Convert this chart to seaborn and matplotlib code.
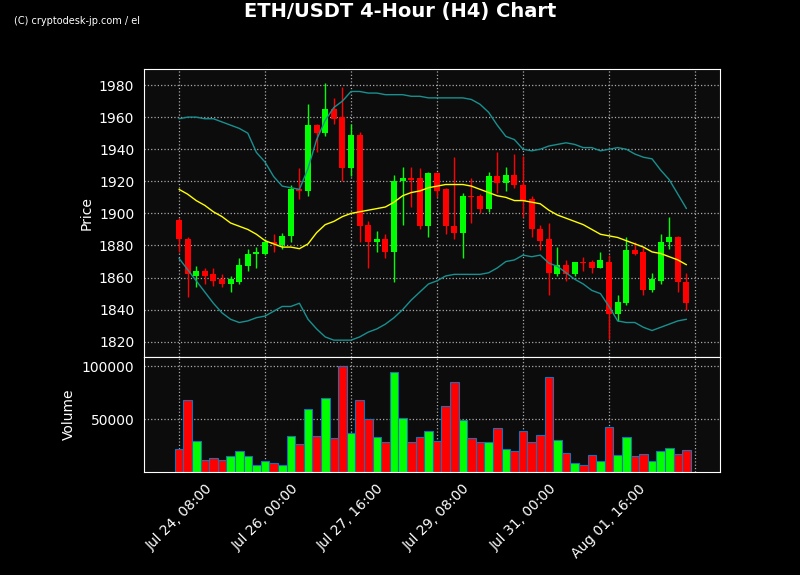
import numpy as np
import pandas as pd
import matplotlib
matplotlib.use("Agg")
import matplotlib.pyplot as plt
import seaborn as sns

opens  = [1896,1884,1861,1864,1862,1859,1856,1857,1867,1875,1875,1882,1880,1886,1915,1914,1955,1950,1965,1960,
          1928,1949,1893,1882,1884,1876,1920,1922,1922,1892,1925,1915,1892,1888,1911,1911,1903,1923,1919,1924,
          1918,1909,1890,1884,1862,1868,1862,1870,1870,1866,1870,1837,1844,1877,1876,1852,1858,1882,1885,1857]
closes = [1884,1862,1864,1861,1858,1856,1859,1868,1875,1876,1882,1881,1886,1915,1914,1955,1950,1965,1959,1928,
          1949,1892,1882,1884,1876,1920,1922,1921,1892,1925,1914,1892,1888,1911,1910,1903,1923,1919,1924,1918,
          1908,1890,1883,1863,1868,1862,1870,1869,1866,1871,1837,1845,1877,1875,1852,1859,1882,1885,1857,1844]
highs  = [1897,1885,1867,1866,1866,1862,1861,1872,1878,1879,1884,1887,1888,1918,1928,1968,1956,1981,1972,1979,
          1956,1951,1895,1889,1887,1924,1929,1929,1928,1926,1926,1916,1935,1913,1922,1912,1926,1938,1929,1937,
          1936,1911,1893,1894,1879,1871,1870,1873,1871,1876,1874,1849,1885,1882,1879,1863,1887,1898,1886,1863]
lows   = [1876,1848,1854,1856,1855,1854,1851,1856,1864,1866,1874,1876,1878,1882,1909,1911,1938,1948,1956,1920,
          1923,1882,1866,1876,1872,1857,1893,1904,1890,1885,1910,1887,1884,1872,1894,1900,1901,1913,1914,1916,
          1898,1885,1877,1849,1861,1858,1861,1864,1863,1866,1822,1833,1843,1874,1849,1851,1856,1878,1851,1840]
volumes = [22000,68000,29000,11000,13000,11000,15000,20000,15000,7000,10000,9000,7000,34000,27000,60000,34000,70000,32000,100000,
           37000,68000,50000,33000,28000,95000,51000,28000,33000,39000,29000,63000,85000,49000,32000,28000,28000,42000,22000,20000,
           39000,28000,35000,90000,30000,18000,9000,7000,16000,10000,43000,16000,33000,15000,17000,10000,20000,23000,17000,21000]
ma20  = [1915,1912,1908,1905,1901,1898,1894,1892,1890,1887,1883,1881,1879,1879,1878,1881,1888,1893,1895,1898,
         1900,1901,1902,1903,1904,1907,1911,1913,1914,1916,1917,1918,1918,1918,1917,1915,1913,1911,1910,1908,
         1908,1907,1906,1902,1899,1897,1895,1893,1890,1887,1886,1885,1883,1881,1879,1876,1875,1873,1871,1868]
upper = [1959,1960,1960,1959,1959,1957,1955,1953,1950,1938,1932,1923,1917,1916,1915,1928,1946,1958,1966,1970,
         1976,1976,1975,1975,1974,1974,1974,1973,1973,1972,1972,1972,1972,1972,1971,1968,1963,1955,1948,1946,
         1940,1939,1940,1942,1943,1944,1943,1941,1941,1939,1940,1941,1940,1937,1935,1934,1927,1921,1912,1903]
lower = [1872,1865,1858,1851,1844,1838,1834,1832,1833,1835,1836,1839,1842,1842,1844,1834,1828,1823,1821,1821,
         1821,1823,1826,1828,1831,1835,1840,1846,1851,1856,1858,1861,1862,1862,1862,1862,1863,1866,1870,1871,
         1874,1873,1874,1869,1867,1863,1859,1856,1852,1850,1842,1833,1832,1832,1829,1827,1829,1831,1833,1834]
start_time = "2023-07-24 08:00"

sns.set_style("dark")
plt.rcParams['font.family'] = ['DejaVu Sans']

n = len(opens)
idx = np.arange(n)
times = pd.date_range(start_time, periods=n + 1, freq="4h")
df = pd.DataFrame({"i": idx, "open": opens, "close": closes, "high": highs, "low": lows,
                   "vol": volumes, "ma": ma20, "up": upper, "lo": lower})
up_mask = df.close >= df.open
GREEN, RED = "#00ff00", "#ff0000"
cols = np.where(up_mask, GREEN, RED)

fig = plt.figure(figsize=(8, 5.75), dpi=100, facecolor="black")
ax1 = fig.add_axes([0.18, 1 - 357/575, 0.72, (357 - 69)/575])
ax2 = fig.add_axes([0.18, 1 - 472/575, 0.72, (472 - 357)/575], sharex=ax1)
for ax in (ax1, ax2):
    ax.set_facecolor("#0c0c0c")
    for s in ax.spines.values():
        s.set_color("white")
    ax.tick_params(colors="white", labelsize=10)
    ax.grid(True, color="#aaaaaa", linestyle=":", linewidth=0.9)

ax1.vlines(df.i, df.low, df.high, colors=cols, linewidth=1, zorder=2)
body_bottom = np.minimum(df.open, df.close)
body_h = np.maximum(np.abs(df.close - df.open), 0.5)
ax1.bar(df.i, body_h, bottom=body_bottom, width=0.7, color=cols, edgecolor="none", linewidth=0, zorder=3)
sns.lineplot(data=df, x="i", y="ma", ax=ax1, color="yellow", linewidth=1, zorder=4)
sns.lineplot(data=df, x="i", y="up", ax=ax1, color="#1a8f8f", linewidth=1, zorder=4)
sns.lineplot(data=df, x="i", y="lo", ax=ax1, color="#1a8f8f", linewidth=1, zorder=4)
ax1.set_ylim(1810.5, 1990)
ax1.set_ylabel("Price", color="white", fontsize=10)
ax1.set_xlabel("")
ax1.tick_params(labelbottom=False)

ax2.bar(df.i, df.vol, width=1.0, color=cols, edgecolor="#1f6fb4", linewidth=0.8)
ax2.set_ylim(0, 109000)
ax2.set_yticks([50000, 100000])
ax2.set_ylabel("Volume", color="white", fontsize=10)
ax2.set_xlabel("")
ax1.set_xlim(-4.07, 62.9)
ticks = list(range(0, n + 1, 10))
labels = [times[t].strftime("%b %d, %H:%M") if t < n else "" for t in ticks]
ax2.set_xticks(ticks)
ax2.set_xticklabels(labels, rotation=45, ha="center")

fig.text(0.5, 0.98, "ETH/USDT 4-Hour (H4) Chart", color="white", fontsize=14,
         fontweight="bold", ha="center", va="center")
fig.text(0.018, 0.963, "(C) cryptodesk-jp.com / el", color="white", fontsize=7, ha="left", va="center")
fig.savefig("out.png", dpi=100, facecolor="black")
